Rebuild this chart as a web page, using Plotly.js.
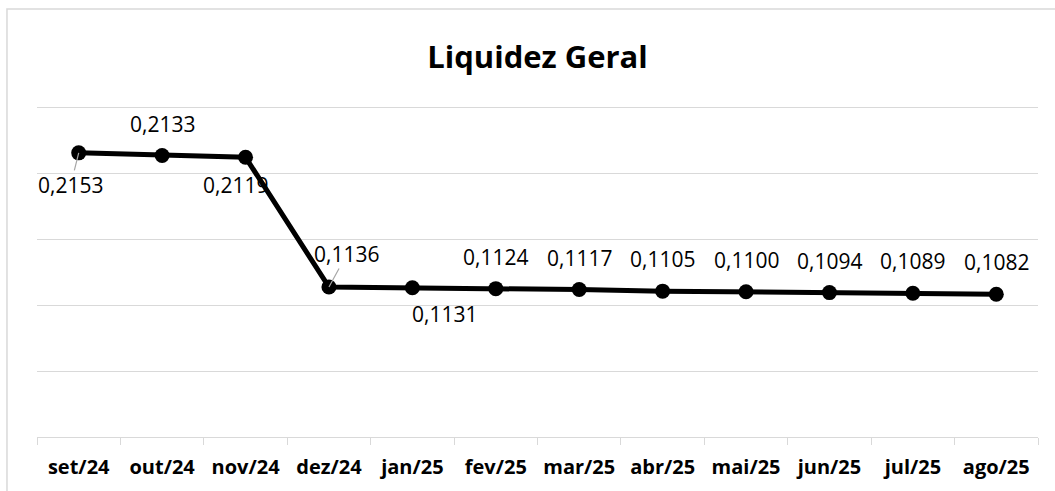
<!DOCTYPE html>
<html>
<head>
<meta charset="utf-8">
<script src="https://cdn.plot.ly/plotly-3.0.1.min.js"></script>
<style>
  html, body { margin: 0; padding: 0; background: #fff; }
  #chart { width: 1055px; height: 491px; }
</style>
</head>
<body>
<div id="chart"></div>
<script>
// ---- data ----
const months = ["set/24", "out/24", "nov/24", "dez/24", "jan/25", "fev/25",
                "mar/25", "abr/25", "mai/25", "jun/25", "jul/25", "ago/25"];
const liquidezGeral = [0.2153, 0.2133, 0.2119, 0.1136, 0.1131, 0.1124,
                       0.1117, 0.1105, 0.1100, 0.1094, 0.1089, 0.1082];
const chartTitle = "Liquidez Geral";

// ---- label placement (pixel offsets of each data label from its point) ----
const labelPlacement = [
  {ax: -8,  ay: 32,  leader: true},
  {ax: 0,   ay: -31, leader: false},
  {ax: -10, ay: 28,  leader: false},
  {ax: 18,  ay: -33, leader: true},
  {ax: 32,  ay: 26,  leader: false},
  {ax: 0,   ay: -32, leader: false},
  {ax: 0,   ay: -32, leader: false},
  {ax: 0,   ay: -32, leader: false},
  {ax: 0,   ay: -32, leader: false},
  {ax: 0,   ay: -32, leader: false},
  {ax: 0,   ay: -32, leader: false},
  {ax: 0,   ay: -32, leader: false}
];

const fmt = v => v.toFixed(4).replace(".", ",");

const annotations = months.map((m, i) => ({
  x: m, y: liquidezGeral[i], xref: "x", yref: "y",
  text: fmt(liquidezGeral[i]),
  showarrow: true,
  arrowhead: 0,
  arrowwidth: 1.2,
  standoff: 0,
  borderpad: 0,
  arrowcolor: labelPlacement[i].leader ? "#a6a6a6" : "rgba(0,0,0,0)",
  ax: labelPlacement[i].ax, ay: labelPlacement[i].ay,
  font: {family: "Open Sans", size: 21, color: "#000"}
}));

const trace = {
  x: months, y: liquidezGeral,
  type: "scatter", mode: "lines+markers",
  line: {color: "#000", width: 5},
  marker: {color: "#000", size: 15},
  hoverinfo: "skip"
};

const layout = {
  width: 1055, height: 491,
  margin: {l: 37, r: 17, t: 104, b: 54},
  paper_bgcolor: "#fff", plot_bgcolor: "#fff",
  showlegend: false,
  title: {
    text: "<b>" + chartTitle + "</b>",
    font: {family: "Open Sans", size: 31, color: "#000"},
    x: 0.5, xref: "paper", xanchor: "center",
    y: 1 - 57 / 491, yref: "container", yanchor: "middle"
  },
  xaxis: {
    type: "category",
    range: [-0.5, months.length - 0.5],
    autorange: false,
    showgrid: false,
    showline: true, linecolor: "#d9d9d9", linewidth: 1,
    ticks: "outside", tickson: "boundaries", ticklen: 7,
    tickcolor: "#d9d9d9", tickwidth: 1,
    ticklabelstandoff: 12,
    tickfont: {family: "Open Sans", size: 20, color: "#000", weight: "bold"},
    fixedrange: true
  },
  yaxis: {
    range: [0, 0.2523],
    autorange: false,
    dtick: 0.05, tick0: 0,
    showgrid: true, gridcolor: "#d9d9d9", gridwidth: 1,
    zeroline: false, showline: false,
    showticklabels: false, ticks: "",
    fixedrange: true
  },
  shapes: [{
    type: "rect", xref: "paper", yref: "paper",
    x0: -0.03, x1: 1.03, y0: -0.2, y1: 1.285,
    line: {color: "#d9d9d9", width: 1.5}, fillcolor: "rgba(0,0,0,0)",
    layer: "below"
  }],
  annotations: annotations
};

Plotly.newPlot("chart", [trace], layout, {displayModeBar: false, staticPlot: true});
</script>
</body>
</html>
